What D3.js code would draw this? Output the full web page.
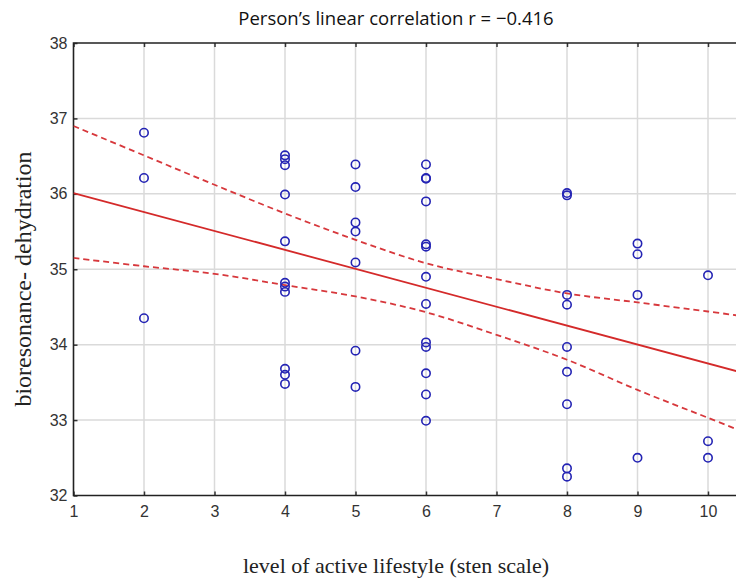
<!DOCTYPE html>
<html>
<head>
<meta charset="utf-8">
<script src="https://cdn.jsdelivr.net/npm/d3@7"></script>
<style>
  body { margin: 0; background: #fff; }
  svg { display: block; }
</style>
</head>
<body>
<div id="chart"></div>
<script>
// points: activity level (sten) and dehydration value
var level = [2, 2, 2,
  4, 4, 4, 4, 4, 4, 4, 4, 4, 4, 4,
  5, 5, 5, 5, 5, 5, 5,
  6, 6, 6, 6, 6, 6, 6, 6, 6, 6, 6, 6, 6,
  8, 8, 8, 8, 8, 8, 8, 8, 8,
  9, 9, 9, 9,
  10, 10, 10];
var dehydration = [36.81, 36.21, 34.35,
  36.51, 36.46, 36.38, 35.99, 35.37, 34.82, 34.77, 34.70, 33.68, 33.60, 33.48,
  36.39, 36.09, 35.62, 35.50, 35.09, 33.92, 33.44,
  36.39, 36.21, 36.20, 35.90, 35.33, 35.30, 34.90, 34.54, 34.03, 33.97, 33.62, 33.34, 32.99,
  36.01, 35.98, 34.66, 34.53, 33.97, 33.64, 33.21, 32.36, 32.25,
  35.34, 35.20, 34.66, 32.50,
  34.92, 32.72, 32.50];

// regression line and 95% band
var fitX = [1, 10.4];
var fitY = [36.01, 33.65];
var bandX = [1, 2, 3, 4, 5, 6, 7, 8, 9, 10, 10.4];
var upperY = [36.90, 36.51, 36.12, 35.74, 35.39, 35.08, 34.87, 34.68, 34.56, 34.44, 34.39];
var lowerY = [35.15, 35.04, 34.94, 34.79, 34.64, 34.43, 34.13, 33.80, 33.40, 33.03, 32.88];

var xTicks = [1, 2, 3, 4, 5, 6, 7, 8, 9, 10];
var yTicks = [32, 33, 34, 35, 36, 37, 38];

var W = 736, H = 581;
var margin = {top: 43, left: 73.5, bottom: 85.5};
var plotRight = 745;   // plot runs off the right edge

var svg = d3.select("#chart").append("svg")
    .attr("width", W)
    .attr("height", H);

var x = d3.scaleLinear().domain([1, 10.5]).range([margin.left, margin.left + 9.5 * 70.5]);
var y = d3.scaleLinear().domain([32, 38]).range([H - margin.bottom, margin.top]);

svg.append("clipPath").attr("id", "clip")
  .append("rect")
    .attr("x", margin.left).attr("y", margin.top)
    .attr("width", plotRight - margin.left).attr("height", y(32) - y(38));

// grid
var grid = svg.append("g").attr("stroke", "#dadada").attr("stroke-width", 1.5);
grid.selectAll(".gx").data(xTicks.slice(1)).enter().append("line")
    .attr("x1", d => x(d)).attr("x2", d => x(d))
    .attr("y1", y(32)).attr("y2", y(38));
grid.selectAll(".gy").data(yTicks.slice(1, -1)).enter().append("line")
    .attr("x1", margin.left).attr("x2", plotRight)
    .attr("y1", d => y(d)).attr("y2", d => y(d));

// axes (inner ticks, labels outside)
var tickFont = "'Liberation Sans', Arial, sans-serif";
var xAxis = svg.append("g")
    .attr("transform", "translate(0," + y(32) + ")")
    .call(d3.axisBottom(x).tickValues(xTicks).tickFormat(d3.format("d"))
      .tickSizeInner(-4).tickSizeOuter(0).tickPadding(10));
var yAxis = svg.append("g")
    .attr("transform", "translate(" + margin.left + ",0)")
    .call(d3.axisLeft(y).tickValues(yTicks).tickFormat(d3.format("d"))
      .tickSizeInner(-4).tickSizeOuter(0).tickPadding(6));
var xTop = svg.append("g")
    .attr("transform", "translate(0," + y(38) + ")")
    .call(d3.axisTop(x).tickValues(xTicks).tickSizeInner(-4).tickSizeOuter(0).tickFormat(""));
[xAxis, yAxis, xTop].forEach(function(g) {
  g.select(".domain").remove();
  g.selectAll(".tick line").attr("stroke", "#333").attr("stroke-width", 1.5);
  g.selectAll("text").attr("fill", "#333").style("font-family", tickFont).style("font-size", "16px");
});

// frame (no right side visible)
svg.append("path")
    .attr("d", "M" + plotRight + "," + y(38) + "H" + margin.left + "V" + y(32) + "H" + plotRight)
    .attr("fill", "none")
    .attr("stroke", "#222")
    .attr("stroke-width", 1.6);

var plot = svg.append("g").attr("clip-path", "url(#clip)");

// confidence band
var band = d3.line().x(d => x(d[0])).y(d => y(d[1])).curve(d3.curveCatmullRom);
[upperY, lowerY].forEach(function(vals) {
  plot.append("path")
      .attr("d", band(bandX.map((v, i) => [v, vals[i]])))
      .attr("fill", "none")
      .attr("stroke", "#d7383c")
      .attr("stroke-width", 1.8)
      .attr("stroke-dasharray", "6,4");
});

// fit line
plot.append("path")
    .attr("d", d3.line()(fitX.map((v, i) => [x(v), y(fitY[i])])))
    .attr("fill", "none")
    .attr("stroke", "#d42a2a")
    .attr("stroke-width", 1.8);

// points
plot.selectAll("circle")
  .data(level)
  .enter()
  .append("circle")
    .attr("cx", d => x(d))
    .attr("cy", (d, i) => y(dehydration[i]))
    .attr("r", 4.2)
    .attr("fill", "none")
    .attr("stroke", "#2424b4")
    .attr("stroke-width", 1.6);

// texts
svg.append("text")
    .attr("x", 396).attr("y", 25)
    .attr("text-anchor", "middle")
    .style("font-family", "'Open Sans', sans-serif")
    .style("font-size", "18.5px")
    .attr("fill", "#111")
    .text("Person’s linear correlation r = −0.416");

svg.append("text")
    .attr("x", 396).attr("y", 573)
    .attr("text-anchor", "middle")
    .style("font-family", "'Liberation Serif', 'Times New Roman', serif")
    .style("font-size", "22px")
    .attr("fill", "#222")
    .text("level of active lifestyle (sten scale)");

svg.append("text")
    .attr("transform", "translate(31,279) rotate(-90)")
    .attr("text-anchor", "middle")
    .style("font-family", "'Liberation Serif', 'Times New Roman', serif")
    .style("font-size", "24px")
    .attr("fill", "#222")
    .text("bioresonance- dehydration");
</script>
</body>
</html>
